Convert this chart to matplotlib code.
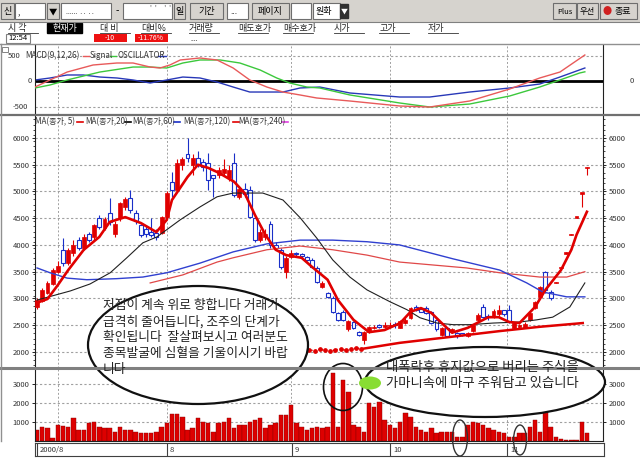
import matplotlib
matplotlib.use("Agg")
import matplotlib.pyplot as plt
from matplotlib.patches import Ellipse, Rectangle
import numpy as np

# ---- data (price units, trading-day index) ----
opens = [2840, 2950, 3100, 3270, 3500, 3900, 3660, 3850, 4100, 3950,
         4200, 4150, 4500, 4320, 4600, 4200, 4500, 4700, 4880, 4600,
         4370, 4300, 4250, 4230, 4220, 4520, 5180, 5030, 5500, 5700,
         5500, 5620, 5550, 5530, 5300, 5300, 5350, 5250, 5530, 4900,
         5050, 5030, 4500, 4100, 4150, 4400, 4000, 3900, 3500, 3780,
         3850, 3820, 3780, 3720, 3570, 3210, 3100, 3010, 2730, 2750,
         2430, 2560, 2380, 2230, 2380, 2440, 2480, 2460, 2480, 2520,
         2450, 2540, 2630, 2840, 2800, 2820, 2750, 2600, 2320, 2450,
         2380, 2360, 2340, 2300, 2400, 2600, 2840, 2660, 2660, 2700,
         2780, 2780, 2450, 2470, 2450, 2600, 2820, 3020, 3500, 3120,
         3280, 3560, 3840, 4180, 4510, 4960, 5430]
highs = [3000, 3200, 3330, 3560, 3700, 4130, 3950, 4100, 4150, 4200,
         4250, 4400, 4560, 4520, 4880, 4450, 4800, 4900, 5030, 4650,
         4400, 4380, 4500, 4300, 4550, 5000, 5360, 5600, 5650, 6000,
         5700, 5750, 5600, 5720, 5300, 5450, 5600, 5500, 5720, 5100,
         5150, 5100, 4550, 4300, 4300, 4450, 4050, 3950, 3800, 3900,
         3870, 3850, 3800, 3750, 3600, 3320, 3120, 3050, 2750, 2780,
         2600, 2580, 2400, 2400, 2480, 2500, 2530, 2560, 2560, 2560,
         2600, 2640, 2840, 2880, 2820, 2860, 2760, 2620, 2460, 2470,
         2440, 2380, 2350, 2380, 2520, 2720, 2900, 2700, 2800, 2880,
         2790, 2880, 2560, 2520, 2560, 2740, 2960, 3240, 3520, 3150,
         3300, 3580, 3860, 4200, 4530, 4980, 5450]
lows = [2800, 2930, 3080, 3250, 3480, 3600, 3620, 3800, 3900, 3900,
        4050, 4100, 4300, 4280, 4380, 4150, 4450, 4650, 4600, 4400,
        4150, 4150, 4150, 4100, 4200, 4500, 4900, 5000, 5400, 5550,
        5300, 5450, 5380, 5030, 4900, 5250, 5300, 5200, 4900, 4850,
        4900, 4500, 4050, 4050, 4100, 3950, 3900, 3550, 3380, 3750,
        3780, 3760, 3700, 3560, 3290, 3200, 3000, 2730, 2580, 2580,
        2400, 2420, 2300, 2150, 2350, 2430, 2440, 2450, 2470, 2450,
        2440, 2520, 2620, 2760, 2740, 2700, 2520, 2400, 2300, 2280,
        2350, 2270, 2300, 2280, 2380, 2580, 2640, 2600, 2640, 2680,
        2680, 2540, 2430, 2450, 2440, 2580, 2800, 3000, 3100, 2980,
        3280, 3560, 3840, 4180, 4510, 4710, 5300]
closes = [2970, 3160, 3290, 3530, 3600, 3660, 3900, 4000, 3950, 4150,
          4100, 4370, 4340, 4480, 4420, 4400, 4780, 4850, 4650, 4450,
          4190, 4200, 4190, 4150, 4520, 4970, 5030, 5530, 5600, 5620,
          5620, 5500, 5450, 5220, 5250, 5400, 5420, 5400, 4930, 5050,
          4950, 4520, 4100, 4250, 4200, 4000, 3940, 3590, 3760, 3850,
          3830, 3800, 3720, 3590, 3310, 3290, 3030, 2750, 2600, 2600,
          2570, 2450, 2320, 2380, 2460, 2470, 2470, 2500, 2510, 2500,
          2570, 2600, 2820, 2790, 2750, 2730, 2540, 2420, 2440, 2300,
          2420, 2290, 2320, 2350, 2500, 2690, 2650, 2650, 2760, 2780,
          2700, 2560, 2540, 2510, 2530, 2720, 2940, 3220, 3160, 3010,
          3300, 3580, 3860, 4200, 4530, 4970, 5450]
volumes = [580, 750, 670, 180, 840, 780, 750, 1190, 580, 580,
           930, 1020, 750, 670, 670, 490, 750, 580, 580, 490,
           440, 440, 440, 490, 750, 930, 1400, 1400, 1280, 580,
           670, 1190, 1020, 930, 490, 930, 1020, 1190, 670, 840,
           840, 1020, 1100, 1190, 670, 840, 930, 1370, 1370, 1900,
           930, 750, 580, 670, 750, 670, 750, 3560, 750, 3210,
           2600, 840, 750, 490, 1980, 1800, 2070, 1100, 840, 670,
           1020, 1460, 1280, 750, 580, 490, 670, 400, 490, 490,
           490, 230, 230, 840, 1020, 930, 840, 670, 580, 490,
           400, 230, 230, 400, 400, 750, 1100, 490, 1720, 750,
           230, 120, 50, 50, 50, 1020, 440]

ma5_days = [0, 2, 4, 6, 9, 12, 14, 17, 20, 23, 25, 26, 29, 31, 33, 35, 38, 40, 42, 44,
            46, 48, 51, 53, 56, 58, 61, 64, 67, 70, 72, 74, 76, 78, 80, 83, 87, 89, 91, 93,
            96, 98, 101, 103, 104, 106]
ma5_vals = [2920, 2990, 3250, 3530, 3910, 4150, 4430, 4520, 4410, 4240, 4470, 4840, 5270, 5500,
            5440, 5350, 5180, 4970, 4560, 4190, 3910, 3810, 3760, 3590, 3350, 2970, 2600, 2370,
            2410, 2540, 2750, 2820, 2730, 2540, 2360, 2450, 2650, 2650, 2560, 2540, 2840, 3160,
            3530, 3910, 4190, 4620]
ma20_days = [0, 6.4, 10.2, 14.1, 17.3, 20.4, 23.1, 27.6, 31.4, 34.7, 37.8, 43.5, 47.4, 50.7,
             53.9, 57.0, 60.3, 63.6, 68.0, 71.3, 73.8, 77.1, 80.2, 83.4, 87.9, 93.1, 96.3,
             99.4, 102.7, 105.6]
ma20_vals = [2970, 3140, 3270, 3480, 3760, 4040, 4150, 4470, 4710, 4900, 4970, 4970, 4840, 4510,
             4130, 3720, 3400, 3160, 2940, 2790, 2640, 2540, 2510, 2510, 2540, 2560, 2600, 2650,
             2840, 3290]
ma60_days = [0, 2.5, 5.8, 9.6, 15.4, 20.4, 25.0, 31.4, 37.8, 44.3, 50.7, 57.0, 63.6, 69.9,
             80.2, 89.2, 94.4, 97.5, 102.1, 105.6]
ma60_vals = [3570, 3480, 3380, 3350, 3370, 3400, 3480, 3660, 3870, 4020, 4090, 4090, 4060, 4000,
             3740, 3530, 3290, 3120, 3030, 3030]
ma120_days = [21.8, 28.1, 34.7, 37.8, 44.3, 50.7, 57.0, 63.6, 69.9, 82.8, 89.2, 96.9, 102.1, 105.6]
ma120_vals = [3290, 3440, 3680, 3760, 3910, 3980, 3910, 3810, 3680, 3570, 3480, 3400, 3400, 3500]
low_days = [62.8, 69.9, 79.6, 89.2, 96.9, 105.2]
low_vals = [2060, 2170, 2280, 2390, 2470, 2540]
bead_days = [51.5, 52.5, 53.5, 54.5, 55.5, 56.5, 57.5, 58.5, 59.5, 60.5, 61.5, 62.5]
bead_vals = [2070, 2040, 2020, 2050, 2030, 2010, 2040, 2060, 2030, 2050, 2070, 2060]

macd_days = [-0.4, 2.5, 5.8, 10.8, 15.4, 18.5, 21.8, 23.7, 25.6, 27.6, 31.4, 34.7, 37.8, 41.0,
             44.3, 47.4, 50.7, 53.9, 60.3, 69.9, 75.7, 83.4, 91.1, 96.9, 100.8, 105.6]
macd_vals = [-118, 20, 176, 314, 353, 353, 274, 255, 314, 412, 451, 412, 255, 20, -118, -216,
             -274, -333, -392, -490, -510, -392, -157, 59, 176, 510]
signal_days = [-0.4, 2.5, 5.8, 12.1, 18.5, 21.8, 25.0, 28.1, 31.4, 35.3, 39.1, 43.0, 46.2, 48.7,
               52.0, 54.5, 60.3, 69.9, 75.7, 83.4, 91.1, 96.9, 100.8, 104.6, 105.6]
signal_vals = [-137, -78, 20, 176, 274, 274, 255, 353, 412, 412, 353, 216, 59, -39, -118, -137,
               -274, -431, -510, -451, -294, -118, 20, 157, 180]
osc_days = [-0.4, 2.5, 5.8, 8.9, 12.1, 15.4, 18.5, 21.8, 25.0, 28.1, 31.4, 34.7, 37.8, 41.0,
            44.3, 47.4, 50.7, 54.5, 60.3, 69.9, 75.7, 83.4, 91.1, 96.9, 100.8, 105.6]
osc_vals = [20, 59, 118, 118, 78, 59, 20, -39, 20, 78, 59, -20, -118, -216, -216, -216, -137,
            -118, -235, -314, -314, -216, -137, -59, 78, 255]

month_labels = ["2000/8", "8", "9", "10", "11"]
month_days = [0, 25, 49, 68, 90.5]
price_ticks = [2000, 2500, 3000, 3500, 4000, 4500, 5000, 5500, 6000]
volume_ticks = [1000, 2000, 3000]

# ---- styling ----
plt.rcParams['font.family'] = ['Noto Sans CJK KR', 'DejaVu Sans']
RED = '#e00000'
BLUE = '#1a2fc8'
GRID = '#a0a0a0'
W, H = 640, 469
X_LO, X_HI = -0.4, 109.1

fig = plt.figure(figsize=(6.4, 4.69), dpi=100)
fig.patch.set_facecolor('white')


def box(x0, y0, x1, y1):
    return [x0 / W, 1 - y1 / H, (x1 - x0) / W, (y1 - y0) / H]


def style_panel(ax):
    ax.set_xlim(X_LO, X_HI)
    ax.set_xticks([])
    for s in ('top', 'bottom'):
        ax.spines[s].set_visible(False)
    for s in ('left', 'right'):
        ax.spines[s].set_color('#202020')
        ax.spines[s].set_linewidth(0.8)
    ax.tick_params(axis='y', labelsize=5.5, labelcolor='#333333', length=2, width=0.6,
                   left=True, right=True, labelleft=True, labelright=True, pad=2)
    ax.tick_params(axis='y', which='minor', length=1.5, width=0.5, left=True, right=True)
    for d in [4] + month_days[1:]:
        ax.axvline(d, color=GRID, lw=0.7, ls=(0, (2, 2)), zorder=0)


# ---- MACD panel ----
ax_m = fig.add_axes(box(35, 45, 603, 114))
style_panel(ax_m)
ax_m.set_ylim(-647, 706)
ax_m.set_yticks([])
for v in (500, -500):
    ax_m.axhline(v, color=GRID, lw=0.8, ls=(0, (2, 2)), zorder=0)
ax_m.axhline(0, color='black', lw=2.0, zorder=1)
ax_m.plot(osc_days, osc_vals, color='#2838b8', lw=1.0, zorder=2)
ax_m.plot(signal_days, signal_vals, color='#3cc83c', lw=1.0, zorder=3)
ax_m.plot(macd_days, macd_vals, color='#e85a5a', lw=1.0, zorder=4)
ytr = ax_m.get_yaxis_transform()
ax_m.text(-0.048, 500, "500", transform=ytr, fontsize=5.5, ha='left', va='center', color='#333333')
ax_m.text(-0.006, 0, "0", transform=ytr, fontsize=5.5, ha='right', va='center', color='#333333')
ax_m.text(-0.012, -500, "-500", transform=ytr, fontsize=5.5, ha='right', va='center', color='#333333')
ax_m.text(1.05, 0, "0", transform=ytr, fontsize=5.5, ha='center', va='center', color='#333333')

# ---- price panel ----
ax = fig.add_axes(box(35, 116, 603, 368))
style_panel(ax)
ax.set_ylim(1700, 6410)
ax.set_yticks(price_ticks)
ax.set_yticks(np.arange(1750, 6400, 100), minor=True)
ax.set_yticklabels([str(t) for t in price_ticks])
ax.yaxis.set_minor_formatter(plt.NullFormatter())
for t in price_ticks:
    ax.axhline(t, color=GRID, lw=0.8, ls=(0, (2, 2)), zorder=0)

days = np.arange(len(closes))
o = np.array(opens)
c = np.array(closes)
up = c >= o
lo = np.minimum(o, c)
hgt = np.maximum(np.abs(c - o), 25)
ax.vlines(days, lows, highs, colors=np.where(up, RED, BLUE), lw=0.8, zorder=2)
ax.bar(days[up], hgt[up], bottom=lo[up], width=0.75, color=RED, edgecolor=RED, lw=0.5, zorder=3)
ax.bar(days[~up], hgt[~up], bottom=lo[~up], width=0.75, color='white', edgecolor=BLUE, lw=0.8,
       zorder=3)

ax.plot(ma120_days, ma120_vals, color='#e04848', lw=0.9, zorder=4)
ax.plot(ma60_days, ma60_vals, color='#3040d0', lw=1.0, zorder=4)
ax.plot(ma20_days, ma20_vals, color='#202020', lw=0.8, zorder=4)
ax.plot(bead_days, bead_vals, color=RED, lw=1.0, ls=':', marker='o', ms=2.4, zorder=4)
ax.plot(low_days, low_vals, color=RED, lw=1.8, zorder=4)
ax.plot(ma5_days, ma5_vals, color=RED, lw=1.9, zorder=5)

# ---- volume panel ----
ax_v = fig.add_axes(box(35, 368, 603, 441))
style_panel(ax_v)
ax_v.set_ylim(0, 3850)
ax_v.set_yticks(volume_ticks)
ax_v.set_yticklabels([str(t) for t in volume_ticks])
for t in volume_ticks:
    ax_v.axhline(t, color=GRID, lw=0.8, ls=(0, (2, 2)), zorder=0)
ax_v.bar(days, volumes, width=0.85, color='#dd0000', edgecolor='#8a0000', lw=0.3, zorder=2)
ax_v.spines['bottom'].set_visible(True)
ax_v.spines['bottom'].set_color('#202020')

# ---- date strip ----
ax_s = fig.add_axes(box(35, 443, 604, 456))
ax_s.set_xlim(X_LO, X_HI)
ax_s.set_ylim(0, 1)
ax_s.set_xticks([])
ax_s.set_yticks([])
for s in ax_s.spines.values():
    s.set_color('#404040')
    s.set_linewidth(0.8)
for d, lab in zip(month_days, month_labels):
    ax_s.axvline(d, color='#404040', lw=0.8)
    ax_s.text(d + 0.5, 0.45, lab, fontsize=5.5, ha='left', va='center', color='#333333')

# ---- overlay: toolbar, headers, legends, hand-drawn notes ----
ov = fig.add_axes([0, 0, 1, 1], zorder=10)
ov.set_xlim(0, W)
ov.set_ylim(H, 0)
ov.axis('off')

ov.add_patch(Rectangle((0, 0), W, 22, facecolor='#d6d3ce', edgecolor='none'))
ov.plot([0, W], [22, 22], color='#808080', lw=0.8)


def button(x0, x1, label, face='#d6d3ce', color='black', fs=6.5):
    ov.add_patch(Rectangle((x0, 3), x1 - x0, 16, facecolor=face, edgecolor='#6e6e6e', lw=0.8))
    if label:
        ov.text((x0 + x1) / 2, 11.5, label, ha='center', va='center', fontsize=fs, color=color)


button(1, 14, "신")
button(15, 45, "", face='white')
ov.text(18, 13, ",", fontsize=6, va='center')
button(47, 59, "▼", fs=6)
button(61, 111, "", face='white')
ov.text(66, 12, "......  . .  . .", fontsize=5, va='center', color='#444444')
ov.text(117, 11.5, "-", fontsize=7, ha='center', va='center')
button(123, 172, "", face='white')
ov.text(150, 9, "'  '     '  '", fontsize=5, va='center', color='#555555')
button(174, 185, "일")
button(190, 223, "기간")
button(227, 248, "", face='white')
ov.text(230, 12, "...", fontsize=6, va='center')
button(252, 289, "페이지")
button(291, 311, "", face='white')
button(313, 340, "", face='white')
ov.text(316, 11.5, "원화", fontsize=6.5, va='center')
ov.add_patch(Rectangle((340, 4), 8, 14, facecolor='#303030', edgecolor='#303030'))
ov.text(344, 11.5, "▼", fontsize=5, ha='center', va='center', color='white')
button(553, 576, "Plus", fs=5.5)
button(577, 598, "우선", fs=6)
button(600, 637, "")
ov.text(607, 11.5, "●", fontsize=6.5, ha='center', va='center', color='#d02020')
ov.text(623, 11.5, "종료", fontsize=6.5, ha='center', va='center')

hdr = [("시 각", 8), ("대 비", 100), ("대비%", 141), ("거래량", 189), ("매도호가", 238),
       ("매수호가", 283), ("시가", 334), ("고가", 379), ("저가", 428)]
for lab, x in hdr:
    ov.text(x, 28, lab, fontsize=6.5, va='center', color='#222222')
    ov.plot([x, x + 30], [33, 33], color='#333333', lw=0.6)
ov.add_patch(Rectangle((47, 23), 35, 10, facecolor='black', edgecolor='black'))
ov.text(64.5, 28, "현재가", fontsize=6.5, ha='center', va='center', color='white')
ov.add_patch(Rectangle((6, 34), 24, 9, facecolor='white', edgecolor='#808080', lw=0.8))
ov.text(18, 38.5, "12:54", fontsize=5.5, ha='center', va='center')
ov.add_patch(Rectangle((94, 34), 33, 8, facecolor='#ee1111', edgecolor='none'))
ov.text(110, 38, "-10", fontsize=5, ha='center', va='center', color='white')
ov.add_patch(Rectangle((135, 34), 33, 8, facecolor='#ee1111', edgecolor='none'))
ov.text(151, 38, "-11.76%", fontsize=5, ha='center', va='center', color='white')
ov.text(190, 39, "....", fontsize=5, va='center', color='#333333')
ov.plot([0, W], [44, 44], color='#909090', lw=1.0)

# panel dividers
ov.plot([0, W], [115, 115], color='#707070', lw=1.6)
ov.plot([0, W], [368, 368], color='#808080', lw=2.2)
ov.plot([1, 1], [44, 441], color='#909090', lw=1.0)
ov.add_patch(Rectangle((2, 47), 6, 5, facecolor='none', edgecolor='#707070', lw=0.6))

# legends
ov.text(25, 56, "MACD(9,12,26)", fontsize=5.8, va='center', color='#333333')
ov.plot([83, 89], [56, 56], color='#e85a5a', lw=1)
ov.text(90, 56, "Signal", fontsize=5.8, va='center', color='#333333')
ov.plot([110, 116], [56, 56], color='#3cc83c', lw=1)
ov.text(117, 56, "OSCILLATOR", fontsize=5.8, va='center', color='#333333')
ov.plot([158, 166], [56, 56], color='#2838b8', lw=1)

legend_items = [("MA(종가, 5)", 35, 77, RED), ("MA(종가,20)", 85, 125, 'black'),
                ("MA(종가,60)", 132, 174, BLUE), ("MA(종가,120)", 183, 233, RED),
                ("MA(종가,240)", 238, 282, '#e040e0')]
for lab, x0, xd, col in legend_items:
    ov.text(x0, 122, lab, fontsize=5.8, va='center', color='#333333')
    ov.plot([xd, xd + 6], [122, 122], color=col, lw=1.2)

# hand-drawn notes
ov.add_patch(Ellipse((198, 345), 220, 118, facecolor='white', edgecolor='#111111', lw=1.6))
note_left = ["저점이 계속 위로 향합니다 거래가",
             "급격히 줄어듭니다, 조주의 단계가",
             "확인됩니다  잘살펴보시고 여러분도",
             "종목발굴에 심혈을 기울이시기 바랍",
             "니다"]
for i, line in enumerate(note_left):
    ov.text(103, 306 + i * 16, line, fontsize=9.2, va='center', color='#222222')

ov.add_patch(Ellipse((485, 382), 240, 70, facecolor='white', edgecolor='#111111', lw=1.6))
ov.text(386, 367, "대폭락후 휴지값으로 버리는 주식을", fontsize=9.6, va='center', color='#222222')
ov.text(386, 383, "가마니속에 마구 주워담고 있습니다", fontsize=9.6, va='center', color='#222222')

ov.add_patch(Ellipse((343, 387), 39, 47, facecolor='none', edgecolor='#111111', lw=1.2))
ov.add_patch(Ellipse((370, 383), 22, 13, facecolor='#88dd33', edgecolor='none'))
ov.add_patch(Ellipse((460, 438), 15, 36, facecolor='none', edgecolor='#333333', lw=1.0))
ov.add_patch(Ellipse((520, 440), 13, 30, facecolor='none', edgecolor='#333333', lw=1.0))

fig.savefig("out.png", dpi=100, facecolor='white')
